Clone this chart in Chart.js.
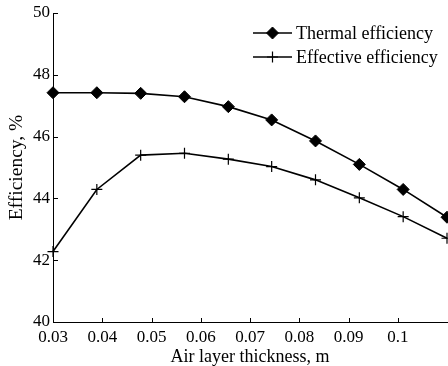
<!DOCTYPE html>
<html>
<head>
<meta charset="utf-8">
<script src="https://cdn.jsdelivr.net/npm/chart.js@4.4.1/dist/chart.umd.min.js"></script>
<style>
  body { margin: 0; background: #fff; }
  #box { width: 448px; height: 366px; }
</style>
</head>
<body>
<div id="box"><canvas id="chart" width="448" height="366"></canvas></div>
<script>
// values
const thickness = [0.03, 0.0389, 0.0478, 0.0567, 0.0656, 0.0744, 0.0833, 0.0922, 0.1011, 0.11];
const thermalEff = [47.42, 47.42, 47.40, 47.29, 46.97, 46.54, 45.86, 45.10, 44.29, 43.39];
const effectiveEff = [42.28, 44.29, 45.40, 45.46, 45.27, 45.03, 44.60, 44.02, 43.41, 42.71];
const xTicks = [0.03, 0.04, 0.05, 0.06, 0.07, 0.08, 0.09, 0.1];
const xTickLabels = ['0.03', '0.04', '0.05', '0.06', '0.07', '0.08', '0.09', '0.1'];
const yTicks = [40, 42, 44, 46, 48, 50];

const FONT = 'Liberation Serif';

// small inward tick marks on both axes
const innerTicks = {
  id: 'innerTicks',
  beforeDatasetsDraw(chart) {
    const ctx = chart.ctx, a = chart.chartArea;
    const xs = chart.scales.x, ys = chart.scales.y;
    ctx.save();
    ctx.strokeStyle = '#000';
    ctx.lineWidth = 1;
    ctx.beginPath();
    xTicks.forEach(v => {
      const px = Math.round(xs.getPixelForValue(v)) + 0.5;
      ctx.moveTo(px, a.bottom);
      ctx.lineTo(px, a.bottom - 4);
    });
    yTicks.forEach(v => {
      const py = Math.round(ys.getPixelForValue(v)) + 0.5;
      ctx.moveTo(a.left, py);
      ctx.lineTo(a.left + 5, py);
    });
    ctx.stroke();
    ctx.restore();
  }
};

// legend drawn inside the plot, top right
const innerLegend = {
  id: 'innerLegend',
  afterDraw(chart) {
    const ctx = chart.ctx, a = chart.chartArea;
    const x0 = a.right - 194;
    ctx.save();
    chart.data.datasets.forEach((ds, i) => {
      const y = 33 + i * 24;
      ctx.strokeStyle = '#000';
      ctx.lineWidth = 1.5;
      ctx.beginPath();
      ctx.moveTo(x0, y);
      ctx.lineTo(x0 + 39, y);
      ctx.stroke();
      ctx.fillStyle = '#000';
      ctx.strokeStyle = '#000';
      ctx.lineWidth = ds.pointBorderWidth;
      Chart.helpers.drawPoint(ctx, {
        pointStyle: ds.pointStyle, radius: ds.pointRadius, rotation: 0, borderWidth: ds.pointBorderWidth
      }, x0 + 19.5, y);
      ctx.fillStyle = '#000';
      ctx.font = '18px "' + FONT + '"';
      ctx.textBaseline = 'middle';
      ctx.textAlign = 'left';
      ctx.fillText(ds.label, x0 + 43, y + 1);
    });
    ctx.restore();
  }
};

new Chart(document.getElementById('chart'), {
  type: 'line',
  data: {
    datasets: [
      {
        label: 'Thermal efficiency',
        data: thickness.map((x, i) => ({ x: x, y: thermalEff[i] })),
        borderColor: '#000',
        backgroundColor: '#000',
        borderWidth: 1.6,
        pointStyle: 'rectRot',
        pointRadius: 6,
        pointBorderWidth: 1,
        pointBackgroundColor: '#000',
        pointBorderColor: '#000',
        tension: 0
      },
      {
        label: 'Effective efficiency',
        data: thickness.map((x, i) => ({ x: x, y: effectiveEff[i] })),
        borderColor: '#000',
        backgroundColor: '#000',
        borderWidth: 1.6,
        pointStyle: 'cross',
        pointRadius: 5.5,
        pointBorderWidth: 1.2,
        pointBorderColor: '#000',
        tension: 0
      }
    ]
  },
  options: {
    responsive: false,
    animation: false,
    clip: false,
    layout: { autoPadding: false, padding: { top: 13, right: 1, left: 0, bottom: 0 } },
    plugins: {
      legend: { display: false },
      tooltip: { enabled: false }
    },
    scales: {
      x: {
        type: 'linear',
        min: 0.03,
        max: 0.11,
        afterBuildTicks: s => { s.ticks = xTicks.map(v => ({ value: v })); },
        afterFit: s => { s.height = 44; s.paddingLeft = 0; s.paddingRight = 0; },
        grid: { display: false, drawTicks: false },
        border: { display: true, color: '#000', width: 1 },
        ticks: {
          color: '#000',
          padding: 5,
          maxRotation: 0,
          autoSkip: false,
          font: { family: FONT, size: 17 },
          callback: (v, i) => xTickLabels[i]
        },
        title: {
          display: true,
          text: 'Air layer thickness, m',
          color: '#000',
          font: { family: FONT, size: 18 },
          padding: { top: 0, bottom: -2 }
        }
      },
      y: {
        min: 40,
        max: 50,
        afterBuildTicks: s => { s.ticks = yTicks.map(v => ({ value: v })); },
        afterFit: s => { s.width = 53; s.paddingTop = 0; s.paddingBottom = 0; },
        grid: { display: false, drawTicks: false },
        border: { display: true, color: '#000', width: 1 },
        ticks: {
          color: '#000',
          padding: 3,
          font: { family: FONT, size: 17 }
        },
        title: {
          display: true,
          text: 'Efficiency, %',
          color: '#000',
          font: { family: FONT, size: 19.5 },
          padding: { top: 5, bottom: 0 }
        }
      }
    }
  },
  plugins: [innerTicks, innerLegend]
});
</script>
</body>
</html>
